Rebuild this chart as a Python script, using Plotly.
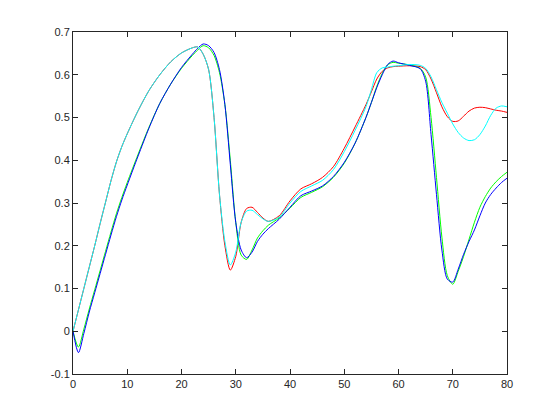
import plotly.graph_objects as go

# sample positions (shared by all four series)
x = [0, 1, 2, 3, 4, 5, 6, 7, 8, 9, 10, 12, 14, 16, 18, 20, 22, 23, 24, 25, 26, 27, 28,
     29, 30, 31, 32, 33, 34, 35, 36, 38, 40, 42, 44, 46, 48, 50, 52, 54, 55,
     56, 57, 58, 59, 60, 62, 64, 65, 66, 67, 68, 69, 70, 71, 72, 73, 74, 75,
     76, 77, 78, 79, 80]

red = [0.0, 0.05, 0.10, 0.15, 0.20, 0.252, 0.302, 0.352, 0.396, 0.432, 0.462, 0.516,
       0.563, 0.600, 0.630, 0.651, 0.663, 0.665, 0.648, 0.612, 0.50, 0.32, 0.20,
       0.143, 0.175, 0.255, 0.287, 0.29, 0.278, 0.265, 0.257, 0.27, 0.305, 0.333, 0.345,
       0.36, 0.385, 0.428, 0.478, 0.53, 0.56,
       0.59, 0.608, 0.616, 0.619, 0.62, 0.621, 0.619, 0.612, 0.59, 0.558, 0.525, 0.502,
       0.491, 0.492, 0.503, 0.515, 0.522, 0.524,
       0.523, 0.52, 0.517, 0.515, 0.512]

green = [0.0, -0.037, 0.005, 0.052, 0.097, 0.142, 0.187, 0.232, 0.275, 0.313, 0.348, 0.414,
         0.477, 0.533, 0.578, 0.615, 0.645, 0.658, 0.668, 0.663, 0.645, 0.605, 0.53,
         0.40, 0.255, 0.178, 0.168, 0.19, 0.218, 0.235, 0.248, 0.265, 0.288, 0.313, 0.325,
         0.338, 0.36, 0.393, 0.44, 0.50, 0.535,
         0.573, 0.603, 0.623, 0.629, 0.627, 0.623, 0.615, 0.595, 0.50, 0.36, 0.22, 0.13,
         0.11, 0.14, 0.175, 0.215, 0.255, 0.29,
         0.315, 0.335, 0.35, 0.362, 0.372]

blue = [0.0, -0.05, -0.005, 0.045, 0.09, 0.135, 0.18, 0.225, 0.268, 0.307, 0.342, 0.41,
        0.475, 0.533, 0.578, 0.617, 0.648, 0.662, 0.672, 0.668, 0.652, 0.612, 0.53,
        0.39, 0.255, 0.19, 0.172, 0.185, 0.21, 0.227, 0.24, 0.262, 0.29, 0.317, 0.328,
        0.34, 0.362, 0.395, 0.44, 0.50, 0.535,
        0.57, 0.60, 0.624, 0.632, 0.628, 0.622, 0.614, 0.585, 0.46, 0.32, 0.19, 0.122,
        0.115, 0.145, 0.18, 0.21, 0.237, 0.27,
        0.30, 0.32, 0.335, 0.348, 0.358]

cyan = [0.0, 0.05, 0.10, 0.15, 0.20, 0.252, 0.302, 0.352, 0.396, 0.432, 0.462, 0.516,
        0.563, 0.600, 0.630, 0.651, 0.663, 0.665, 0.648, 0.612, 0.50, 0.32, 0.21,
        0.155, 0.185, 0.255, 0.281, 0.283, 0.273, 0.263, 0.257, 0.267, 0.30, 0.327, 0.34,
        0.353, 0.378, 0.42, 0.47, 0.525, 0.565,
        0.605, 0.616, 0.618, 0.62, 0.621, 0.624, 0.622, 0.615, 0.595, 0.565, 0.535, 0.51,
        0.485, 0.465, 0.452, 0.446, 0.448, 0.46,
        0.48, 0.505, 0.522, 0.527, 0.525]

series = [("red", red), ("#00ff00", green), ("blue", blue), ("cyan", cyan)]

fig = go.Figure()
for color, y in series:
    fig.add_trace(go.Scatter(
        x=x, y=y, mode='lines',
        line=dict(color=color, width=1, shape='spline', smoothing=0.8),
        showlegend=False
    ))

axis_style = dict(
    showline=True, linecolor='#262626', linewidth=1, mirror='ticks',
    ticks='inside', ticklen=5, tickcolor='#262626',
    showgrid=False, zeroline=False,
    tickfont=dict(family='Liberation Sans, Arial', size=11, color='#262626')
)

# page body adds an 8px offset, so margins are shifted to compensate
fig.update_layout(
    width=560, height=420,
    margin=dict(l=65, r=61, t=24, b=54),
    paper_bgcolor='white', plot_bgcolor='white',
    xaxis=dict(range=[0, 80], tickvals=list(range(0, 81, 10)), **axis_style),
    yaxis=dict(range=[-0.1, 0.7], tickvals=[-0.1, 0, 0.1, 0.2, 0.3, 0.4, 0.5, 0.6, 0.7],
               ticktext=['-0.1', '0', '0.1', '0.2', '0.3', '0.4', '0.5', '0.6', '0.7'],
               **axis_style)
)

fig.write_html("out.html")
